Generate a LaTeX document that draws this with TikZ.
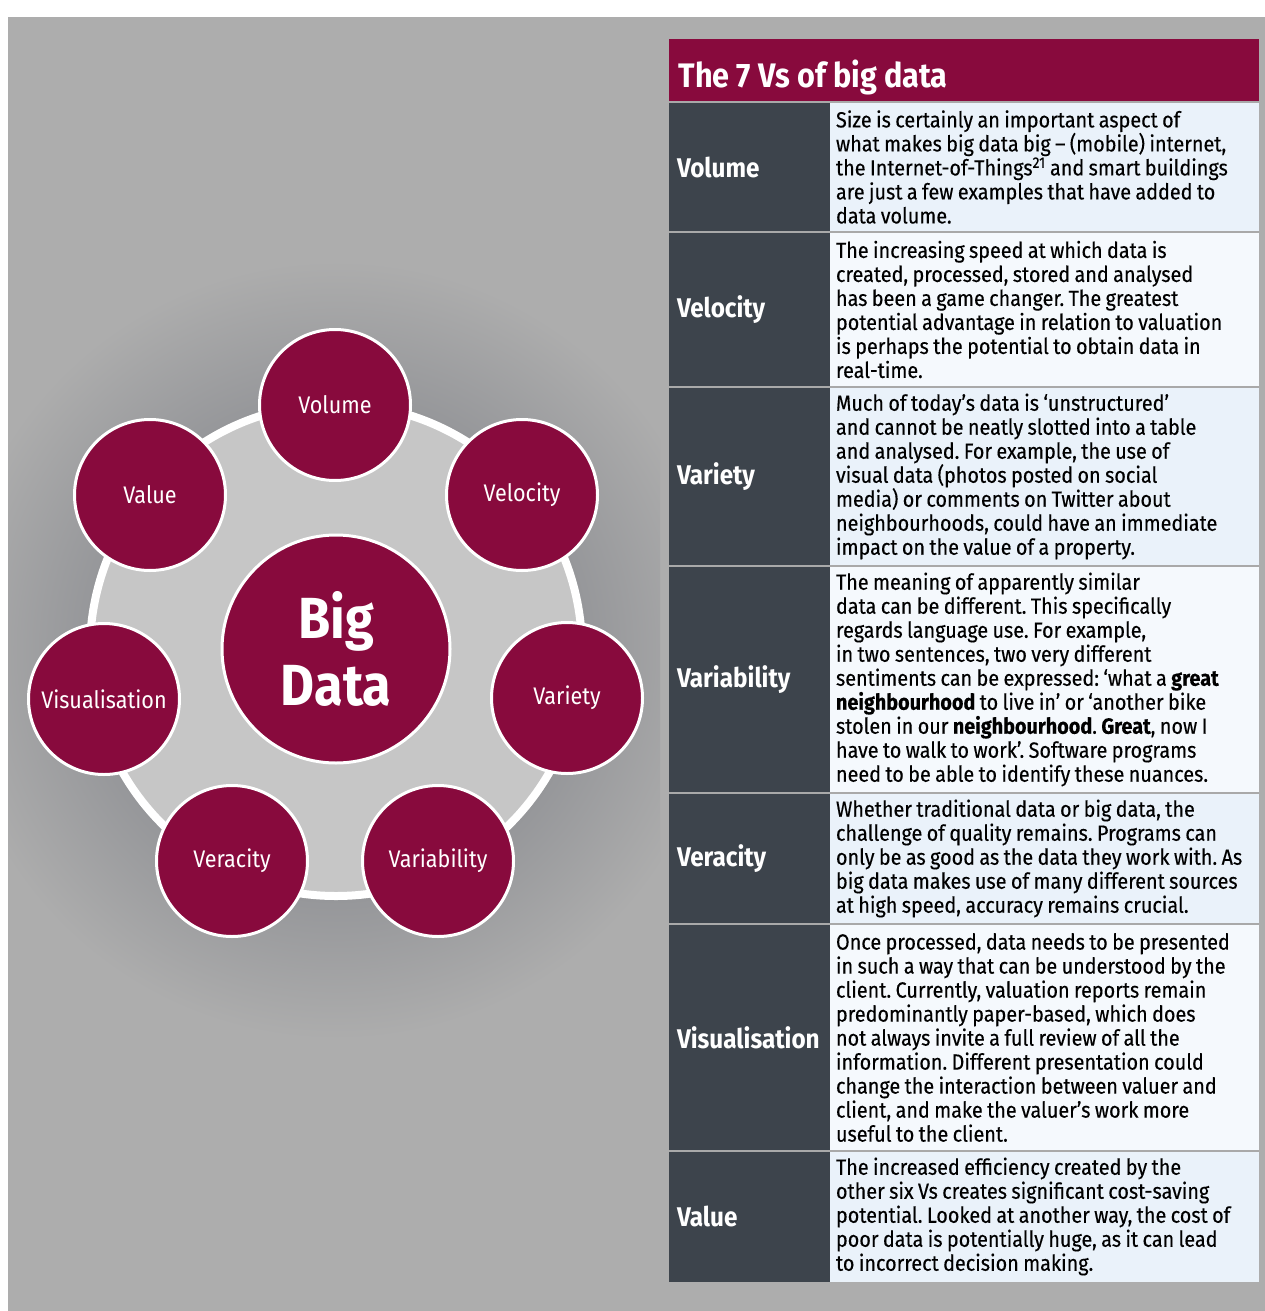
\documentclass[tikz,border=0pt]{standalone}
\usepackage{fontspec}
\setmainfont{Fira Sans}[FakeStretch=0.9]
\newfontfamily\bodyfont{Fira Sans}[FakeStretch=0.9,FakeBold=0.3]
\usepackage{tikz}
\usetikzlibrary{positioning}
\definecolor{bdred}{HTML}{880A3D}
\definecolor{bggray}{HTML}{ADADAD}
\definecolor{halogray}{HTML}{96979A}
\definecolor{ringgray}{HTML}{C6C6C6}
\definecolor{colgray}{HTML}{3D444C}
\definecolor{cellA}{HTML}{EAF2FA}
\definecolor{cellB}{HTML}{F5F9FD}
\definecolor{rulegray}{HTML}{A9A9A9}
\newcommand{\nohyph}{\frenchspacing\hyphenpenalty=10000\relax\exhyphenpenalty=10000\relax}
\newcommand{\tightspace}{\nohyph\spaceskip=0.2em plus 0.05em minus 0.03em\relax}
\pgfdeclareradialshading{halo}{\pgfpoint{0bp}{0bp}}{color(0bp)=(halogray); color(16bp)=(halogray); color(25bp)=(bggray); color(50bp)=(bggray)}
\tikzset{vcircle/.style={circle,draw=white,line width=3pt,fill=bdred,minimum size=151pt,inner sep=0pt,text=white,font=\fontsize{24}{28}\selectfont},
  hub/.style={circle,draw=white,line width=3pt,fill=bdred,minimum size=228pt,inner sep=0pt,text=white,align=center,font=\bfseries\fontsize{58}{67}\selectfont},
  ring/.style={draw=white,line width=8pt,fill=ringgray},
  vname/.style={fill=colgray,minimum width=161pt,text width=145pt,inner xsep=8pt,inner ysep=0pt,outer sep=0pt,align=left,text=white,font=\bfseries\fontsize{27}{30}\selectfont,execute at begin node=\nohyph},
  vtext/.style={minimum width=429pt,text width=417pt,inner xsep=6pt,inner ysep=0pt,outer sep=0pt,align=left,font=\bodyfont\fontsize{22}{24}\selectfont,execute at begin node=\tightspace},
  rowrule/.style={draw=rulegray,line width=2pt}}

\begin{document}
\begin{tikzpicture}[x=1pt, y=-1pt, node distance=0pt]
\useasboundingbox (0,0) rectangle (1265,1311);
\fill[white] (0,0) rectangle (1265,1311);
\fill[bggray] (8,17) rectangle (1265,1311);
% the seven Vs round the hub
\coordinate (c) at (336,650);
\begin{scope}
  \clip (8,17) rectangle (660,1311);
  \shade[shading=halo] (c) circle (390);
\end{scope}
\draw[ring] (c) circle (246);
\node[hub] (bd) at (336,649) {Big\\Data};
\node[vcircle] (vol) at (335,405) {Volume};
\node[vcircle] (vel) at (522,495) {Velocity};
\node[vcircle] (var) at (567,698) {Variety};
\node[vcircle] (vab) at (438,861) {Variability};
\node[vcircle] (ver) at (232,861) {Veracity};
\node[vcircle] (vis) at (104,699) {Visualisation};
\node[vcircle] (val) at (150,495) {Value};
% table
\node[fill=bdred,minimum width=590pt,minimum height=63pt,anchor=north west,outer sep=0pt] (head) at (669,39) {};
\node[anchor=base west,text=white,font=\bfseries\fontsize{34}{36}\selectfont] (title) at (675,88) {The 7 Vs of big data};
\node[vname,minimum height=130pt,anchor=north west] (l1) at (head.south west) {Volume};
\node[vtext,fill=cellA,minimum height=130pt,right=of l1] (t1) {Size is certainly an important aspect of\\
what makes big data big – (mobile) internet,\\
the Internet-of-Things\textsuperscript{21} and smart buildings\\
are just a few examples that have added to\\
data volume.};
\node[vname,minimum height=155pt,below=of l1] (l2) {Velocity};
\node[vtext,fill=cellB,minimum height=155pt,right=of l2] (t2) {The increasing speed at which data is\\
created, processed, stored and analysed\\
has been a game changer. The greatest\\
potential advantage in relation to valuation\\
is perhaps the potential to obtain data in\\
real-time.};
\node[vname,minimum height=179pt,below=of l2] (l3) {Variety};
\node[vtext,fill=cellA,minimum height=179pt,right=of l3] (t3) {Much of today’s data is ‘unstructured’\\
and cannot be neatly slotted into a table\\
and analysed. For example, the use of\\
visual data (photos posted on social\\
media) or comments on Twitter about\\
neighbourhoods, could have an immediate\\
impact on the value of a property.};
\node[vname,minimum height=227pt,below=of l3] (l4) {Variability};
\node[vtext,fill=cellB,minimum height=227pt,right=of l4] (t4) {The meaning of apparently similar\\
data can be different. This specifically\\
regards language use. For example,\\
in two sentences, two very different\\
sentiments can be expressed: ‘what a \textbf{great}\\
\textbf{neighbourhood} to live in’ or ‘another bike\\
stolen in our \textbf{neighbourhood}. \textbf{Great}, now I\\
have to walk to work’. Software programs\\
need to be able to identify these nuances.};
\node[vname,minimum height=131pt,below=of l4] (l5) {Veracity};
\node[vtext,fill=cellA,minimum height=131pt,right=of l5] (t5) {Whether traditional data or big data, the\\
challenge of quality remains. Programs can\\
only be as good as the data they work with. As\\
big data makes use of many different sources\\
at high speed, accuracy remains crucial.};
\node[vname,minimum height=227pt,below=of l5] (l6) {Visualisation};
\node[vtext,fill=cellB,minimum height=227pt,right=of l6] (t6) {Once processed, data needs to be presented\\
in such a way that can be understood by the\\
client. Currently, valuation reports remain\\
predominantly paper-based, which does\\
not always invite a full review of all the\\
information. Different presentation could\\
change the interaction between valuer and\\
client, and make the valuer’s work more\\
useful to the client.};
\node[vname,minimum height=131pt,below=of l6] (l7) {Value};
\node[vtext,fill=cellA,minimum height=131pt,right=of l7] (t7) {The increased efficiency created by the\\
other six Vs creates significant cost-saving\\
potential. Looked at another way, the cost of\\
poor data is potentially huge, as it can lead\\
to incorrect decision making.};
\foreach \r in {1,...,7}
  \draw[rowrule] (l\r.north west) -- (t\r.north east);
\end{tikzpicture}
\end{document}
